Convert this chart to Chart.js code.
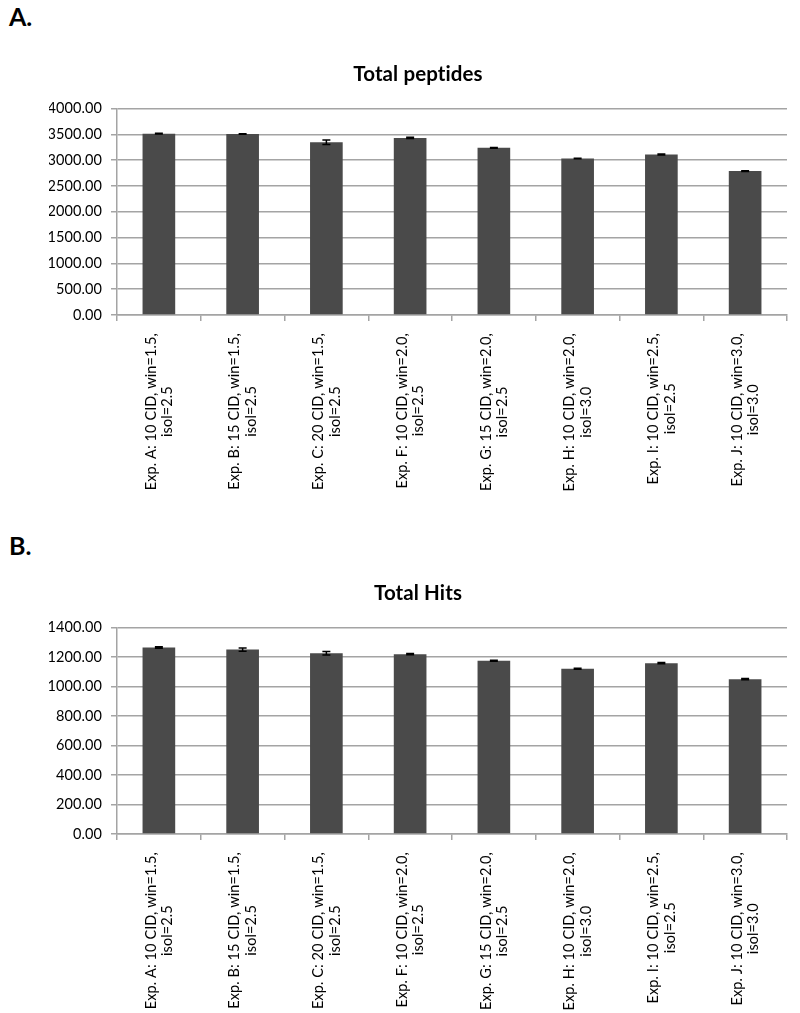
<!DOCTYPE html>
<html>
<head>
<meta charset="utf-8">
<script src="https://cdn.jsdelivr.net/npm/chart.js@4.4.0/dist/chart.umd.min.js"></script>
<style>
  html, body { margin: 0; padding: 0; background: #fff; }
  body { width: 800px; height: 1013px; position: relative; overflow: hidden; font-family: Lato, "Liberation Sans", sans-serif; }
  .panel { position: absolute; left: 9px; font-weight: bold; font-size: 25px; line-height: 25px; color: #000; }
  .box { position: absolute; left: 0; width: 800px; }
</style>
</head>
<body>
<div class="panel" style="top:4px;">A.</div>
<div class="box" style="top:0px;height:505px;"><canvas id="c1"></canvas></div>
<div class="panel" style="top:533px;">B.</div>
<div class="box" style="top:519px;height:494px;"><canvas id="c2"></canvas></div>
<script>
// ---- data ----
const labelLine1 = [
  "Exp. A: 10 CID, win=1.5,",
  "Exp. B: 15 CID, win=1.5,",
  "Exp. C: 20 CID, win=1.5,",
  "Exp. F: 10 CID, win=2.0,",
  "Exp. G: 15 CID, win=2.0,",
  "Exp. H: 10 CID, win=2.0,",
  "Exp. I: 10 CID, win=2.5,",
  "Exp. J: 10 CID, win=3.0,"
];
const labelLine2 = ["isol=2.5","isol=2.5","isol=2.5","isol=2.5","isol=2.5","isol=3.0","isol=2.5","isol=3.0"];

const peptideValues = [3515, 3510, 3348, 3432, 3239, 3034, 3111, 2789];
const peptideErrors = [6, 5, 45, 12, 8, 6, 10, 6];

const hitValues = [1265, 1251, 1226, 1220, 1175, 1121, 1159, 1050];
const hitErrors = [5, 11, 12, 5, 4, 4, 5, 4];

const peptideTicks = {min: 0, max: 4000, step: 500};
const hitTicks = {min: 0, max: 1400, step: 200};

// ---- styling ----
const FONT = "Lato";
const GRID = "#a4a4a4";
const BAR = "#4a4a4a";

const noLigaturePlugin = {
  id: 'noLig',
  beforeDraw(chart) { if ('letterSpacing' in chart.ctx) chart.ctx.letterSpacing = '0.1px'; }
};

const errorBarPlugin = {
  id: 'errorBars',
  afterDatasetsDraw(chart, args, opts) {
    const ctx = chart.ctx;
    const meta = chart.getDatasetMeta(0);
    const ys = chart.scales.y;
    const vals = chart.data.datasets[0].data;
    const errs = opts.errors || [];
    ctx.save();
    ctx.strokeStyle = '#000';
    ctx.lineWidth = 1.5;
    meta.data.forEach((bar, i) => {
      const e = errs[i];
      if (e == null) return;
      const x = bar.x;
      const yt = ys.getPixelForValue(vals[i] + e);
      const yb = ys.getPixelForValue(vals[i] - e);
      ctx.beginPath();
      ctx.moveTo(x, yt); ctx.lineTo(x, yb);
      ctx.moveTo(x - 4, yt); ctx.lineTo(x + 4, yt);
      ctx.moveTo(x - 4, yb); ctx.lineTo(x + 4, yb);
      ctx.stroke();
    });
    ctx.restore();
  }
};

const xLabelPlugin = {
  id: 'xLabels',
  afterDraw(chart, args, opts) {
    const ctx = chart.ctx;
    const xs = chart.scales.x;
    const l1 = opts.line1, l2 = opts.line2;
    ctx.save();
    ctx.font = opts.fontSize + "px " + FONT;
    ctx.fillStyle = '#000';
    ctx.textAlign = 'center';
    ctx.textBaseline = 'middle';
    const top = chart.chartArea.bottom + opts.gap;
    l1.forEach((t, i) => {
      const x = xs.getPixelForValue(i);
      const w = ctx.measureText(t).width;
      const cy = top + w / 2;
      ctx.save();
      ctx.translate(x, cy);
      ctx.rotate(-Math.PI / 2);
      ctx.fillText(t, 0, opts.off1);
      ctx.fillText(l2[i], 0, opts.off2);
      ctx.restore();
    });
    ctx.restore();
  }
};

function makeChart(id, title, values, errors, tk, xHeight) {
  return new Chart(document.getElementById(id), {
    type: 'bar',
    data: {
      labels: labelLine1.map((t, i) => [t, labelLine2[i]]),
      datasets: [{
        data: values,
        backgroundColor: BAR,
        borderWidth: 0,
        categoryPercentage: 1.0,
        barPercentage: 0.39
      }]
    },
    options: {
      responsive: true,
      maintainAspectRatio: false,
      animation: false,
      events: [],
      layout: { padding: { left: 49, right: 13, top: 1, bottom: 0 } },
      plugins: {
        legend: { display: false },
        tooltip: { enabled: false },
        title: {
          display: true,
          text: title,
          color: '#000',
          font: { family: FONT, size: 20.5, weight: 'bold' },
          padding: { top: 61, bottom: 22 }
        },
        errorBars: { errors: errors },
        xLabels: { line1: labelLine1, line2: labelLine2, fontSize: 14.5, gap: 18, off1: -8, off2: 8.5 }
      },
      scales: {
        x: {
          grid: { offset: true, drawOnChartArea: false, drawTicks: true, tickLength: 6, color: GRID, lineWidth: 1.5 },
          border: { display: true, color: GRID, width: 1.5 },
          ticks: { display: false },
          afterFit(s) { s.height = xHeight; }
        },
        y: {
          min: tk.min, max: tk.max,
          grid: { color: GRID, lineWidth: 1.5, drawTicks: true, tickLength: 6 },
          border: { display: true, color: GRID, width: 1.5 },
          ticks: {
            stepSize: tk.step,
            padding: 9,
            color: '#000',
            font: { family: FONT, size: 14.5 },
            callback: v => Number(v).toFixed(2)
          },
          afterFit(s) { s.width = 68; }
        }
      }
    },
    plugins: [noLigaturePlugin, errorBarPlugin, xLabelPlugin]
  });
}

makeChart('c1', 'Total peptides', peptideValues, peptideErrors, peptideTicks, 190);
makeChart('c2', 'Total Hits', hitValues, hitErrors, hitTicks, 179);
</script>
</body>
</html>
